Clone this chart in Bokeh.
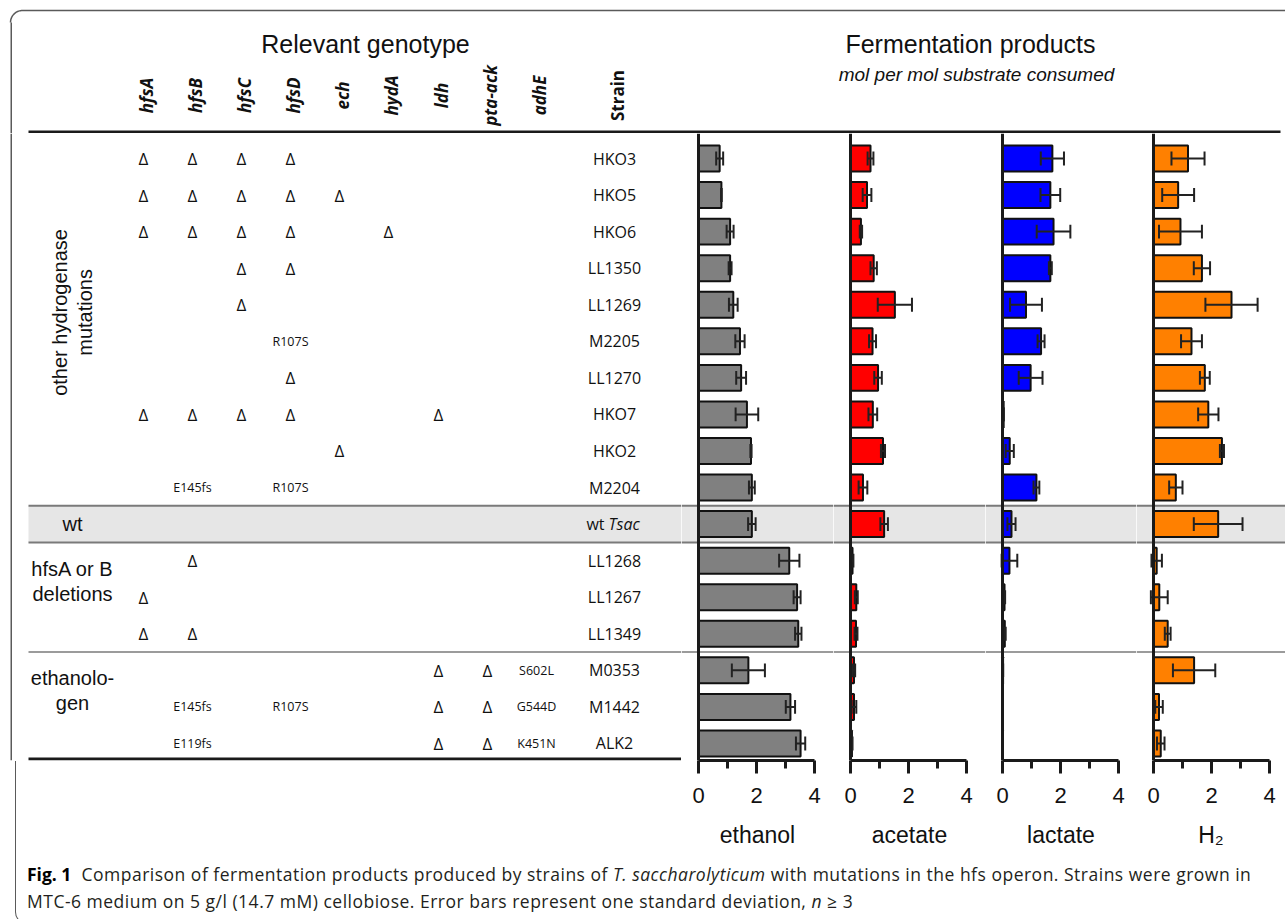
import numpy as np
from bokeh.plotting import figure
from bokeh.models import Range1d, FixedTicker, BoxAnnotation, Span, Div, ColumnDataSource
from bokeh.layouts import column, row
from bokeh.core.properties import value
from bokeh.embed import file_html
from bokeh.resources import INLINE

# ---------------- data ----------------
strains = ["HKO3", "HKO5", "HKO6", "LL1350", "LL1269", "M2205", "LL1270", "HKO7", "HKO2",
           "M2204", "wt Tsac", "LL1268", "LL1267", "LL1349", "M0353", "M1442", "ALK2"]
genes = ["hfsA", "hfsB", "hfsC", "hfsD", "ech", "hydA", "ldh", "pta-ack", "adhE"]
D = "\u0394"
genotype = [
    [D, D, D, D, "", "", "", "", ""],
    [D, D, D, D, D, "", "", "", ""],
    [D, D, D, D, "", D, "", "", ""],
    ["", "", D, D, "", "", "", "", ""],
    ["", "", D, "", "", "", "", "", ""],
    ["", "", "", "R107S", "", "", "", "", ""],
    ["", "", "", D, "", "", "", "", ""],
    [D, D, D, D, "", "", D, "", ""],
    ["", "", "", "", D, "", "", "", ""],
    ["", "E145fs", "", "R107S", "", "", "", "", ""],
    ["", "", "", "", "", "", "", "", ""],
    ["", D, "", "", "", "", "", "", ""],
    [D, "", "", "", "", "", "", "", ""],
    [D, D, "", "", "", "", "", "", ""],
    ["", "", "", "", "", "", D, D, "S602L"],
    ["", "E145fs", "", "R107S", "", "", D, D, "G544D"],
    ["", "E119fs", "", "", "", "", D, D, "K451N"],
]
groups = ["other hydrogenase\nmutations", "wt", "hfsA or B\ndeletions", "ethanolo-\ngen"]
group_rows = [4.21, 10.0, 11.57, 14.55]
group_angles = [np.pi / 2, 0, 0, 0]

ethanol = [0.73, 0.79, 1.09, 1.09, 1.20, 1.43, 1.47, 1.67, 1.81, 1.84, 1.84, 3.13, 3.40, 3.44, 1.72, 3.17, 3.52]
ethanol_sd = [0.12, 0.01, 0.12, 0.05, 0.15, 0.16, 0.17, 0.39, 0.02, 0.10, 0.13, 0.35, 0.12, 0.11, 0.57, 0.16, 0.16]
acetate = [0.69, 0.57, 0.36, 0.80, 1.53, 0.76, 0.95, 0.77, 1.12, 0.43, 1.16, 0.07, 0.20, 0.19, 0.12, 0.12, 0.05]
acetate_sd = [0.10, 0.15, 0.04, 0.11, 0.59, 0.12, 0.13, 0.15, 0.07, 0.15, 0.13, 0.03, 0.05, 0.05, 0.04, 0.08, 0.02]
lactate = [1.72, 1.65, 1.76, 1.65, 0.81, 1.33, 0.97, 0.04, 0.25, 1.17, 0.31, 0.24, 0.07, 0.08, 0.02, 0.01, 0.01]
lactate_sd = [0.40, 0.34, 0.58, 0.05, 0.55, 0.12, 0.41, 0.00, 0.14, 0.10, 0.14, 0.27, 0.02, 0.03, 0.00, 0.00, 0.00]
h2 = [1.19, 0.85, 0.93, 1.67, 2.69, 1.31, 1.77, 1.89, 2.36, 0.77, 2.23, 0.11, 0.20, 0.49, 1.40, 0.19, 0.25]
h2_sd = [0.57, 0.55, 0.74, 0.28, 0.90, 0.36, 0.17, 0.35, 0.07, 0.23, 0.84, 0.18, 0.29, 0.10, 0.73, 0.13, 0.13]

products = ["ethanol", "acetate", "lactate", "H\u2082"]
product_values = [ethanol, acetate, lactate, h2]
product_sds = [ethanol_sd, acetate_sd, lactate_sd, h2_sd]
product_colors = ["#808080", "#ff0000", "#0000ff", "#ff8000"]
x_ticks = [0, 2, 4]
x_minor = [1, 3]

# ---------------- layout constants ----------------
W = 1285
TOP = 133          # header height (px)
ROW0 = 158.0       # pixel centre of first strain row
ROWH = 36.56       # pixel spacing of rows
FH = 627           # frame height of the middle band (133 .. 760)
BOT = 96           # space below frames (axes)
SC = 29.0          # px per unit of bars
AX0 = [698, 850, 1002, 1153]
GAP = 17
TAB_W = AX0[0] - GAP
gene_x = [143, 192, 241, 290, 339, 388, 438, 487, 536]
strain_x = 614
group_x = 72
BORDER = "#5a5a5a"
ARIAL = value("Liberation Sans")
TABF = value("Open Sans")


def rowpos(px):
    return (px - ROW0) / ROWH


def bare(p):
    p.grid.visible = False
    p.outline_line_color = None
    p.min_border_left = 0
    p.min_border_right = 0
    p.min_border_top = 0


# ---------------- header ----------------
hdr = figure(width=W, height=TOP, x_range=Range1d(0, W), y_range=Range1d(TOP, 0),
             toolbar_location=None, output_backend="svg", x_axis_location=None,
             y_axis_location=None, min_border=0)
bare(hdr)
hdr.min_border_bottom = 0
t = np.linspace(0, np.pi / 2, 20)
cx = list(22 - 12 * np.cos(t)) + [W]
cy = list(22 - 12 * np.sin(t)) + [10]
hdr.line(cx, cy, line_color=BORDER, line_width=1.5)
hdr.segment(x0=[10.75], y0=[22], x1=[10.75], y1=[TOP], line_color=BORDER, line_width=1.5)
hdr.segment(x0=[28], y0=[131.5], x1=[1280], y1=[131.5], line_color="#1a1a1a", line_width=3)
hdr.text(x=[365, 970], y=[43, 43], text=["Relevant genotype", "Fermentation products"],
         text_font=ARIAL, text_font_size="25px", text_align="center", text_baseline="middle",
         text_color="#111")
hdr.text(x=[976], y=[74], text=["mol per mol substrate consumed"], text_font=ARIAL,
         text_font_size="19px", text_font_style="italic", text_align="center",
         text_baseline="middle", text_color="#111")
hdr.text(x=[g + 3 for g in gene_x], y=[95] * len(genes), text=genes, angle=np.pi / 2,
         text_font=TABF, text_font_size="17px", text_font_style="bold italic",
         text_align="center", text_baseline="middle", text_color="#111")
hdr.text(x=[strain_x + 3], y=[95], text=["Strain"], angle=np.pi / 2, text_font=TABF,
         text_font_size="17px", text_font_style="bold", text_align="center",
         text_baseline="middle", text_color="#111")

# ---------------- genotype table ----------------
yr_tab = Range1d(rowpos(TOP + FH), rowpos(TOP))
tab = figure(frame_width=TAB_W, frame_height=FH, x_range=Range1d(0, TAB_W), y_range=yr_tab,
             toolbar_location=None, output_backend="svg", x_axis_location=None,
             y_axis_location=None, min_border=0)
bare(tab)
tab.min_border_bottom = BOT
tab.segment(x0=[10.75], y0=[rowpos(TOP)], x1=[10.75], y1=[rowpos(TOP + FH)],
            line_color=BORDER, line_width=1.5)
tab.add_layout(BoxAnnotation(left=28, bottom=9.5, top=10.5, fill_color="#e6e6e6",
                             fill_alpha=1, line_color=None, level="underlay"))
tab.segment(x0=[28, 28, 28], y0=[9.5, 10.5, 13.5], x1=[TAB_W + 2] * 3, y1=[9.5, 10.5, 13.5],
            line_color="#7a7a7a", line_width=[2, 2, 1.5])
tab.segment(x0=[28], y0=[rowpos(758.4)], x1=[TAB_W], y1=[rowpos(758.4)], line_color="#1a1a1a",
            line_width=3)

dx, dy, dt, mx, my, mt = [], [], [], [], [], []
for i, cells in enumerate(genotype):
    for j, c in enumerate(cells):
        if c == D:
            dx.append(gene_x[j]); dy.append(i); dt.append(c)
        elif c:
            mx.append(gene_x[j]); my.append(i); mt.append(c)
tab.text(x=dx, y=dy, text=dt, text_font=TABF, text_font_size="17px", text_align="center",
         text_baseline="middle", text_color="#111")
tab.text(x=mx, y=my, text=mt, text_font=TABF, text_font_size="12.5px", text_align="center",
         text_baseline="middle", text_color="#111")
plain = [(i, s) for i, s in enumerate(strains) if s != "wt Tsac"]
tab.text(x=[strain_x] * len(plain), y=[i for i, _ in plain], text=[s for _, s in plain],
         text_font=TABF, text_font_size="16px", text_align="center", text_baseline="middle",
         text_color="#111")
iwt = strains.index("wt Tsac")
tab.text(x=[strain_x - 10], y=[iwt], text=["wt"], text_font=TABF, text_font_size="16px",
         text_align="right", text_baseline="middle", text_color="#111")
tab.text(x=[strain_x - 6], y=[iwt], text=["Tsac"], text_font=TABF, text_font_size="16px",
         text_font_style="italic", text_align="left", text_baseline="middle", text_color="#111")
tab.text(x=[group_x] * len(groups), y=group_rows, text=groups, angle=group_angles,
         text_font=ARIAL, text_font_size="20px", text_align="center", text_baseline="middle",
         text_color="#111", text_line_height=1.1)

# ---------------- bar panels ----------------
idx = list(range(len(strains)))
panels = []
for k in range(4):
    left_px = AX0[k] - GAP
    right_px = AX0[k + 1] - GAP if k < 3 else W
    xr = Range1d((left_px - AX0[k]) / SC, (right_px - AX0[k]) / SC)
    p = figure(frame_width=right_px - left_px, frame_height=FH, x_range=xr,
               y_range=Range1d(rowpos(TOP + FH), rowpos(TOP)),
               toolbar_location=None, output_backend="svg", y_axis_location=None,
               x_axis_location="below")
    bare(p)
    p.min_border_bottom = BOT
    p.add_layout(BoxAnnotation(bottom=9.5, top=10.5, fill_color="#e6e6e6", fill_alpha=1,
                               line_color=None, level="underlay"))
    for loc, lw in [(9.5, 2), (10.5, 2), (13.5, 1.5)]:
        p.add_layout(Span(location=loc, dimension="width", line_color="#7a7a7a",
                          line_width=lw, level="underlay"))
    vals = product_values[k]
    sds = product_sds[k]
    lo = [v - s for v, s in zip(vals, sds)]
    hi = [v + s for v, s in zip(vals, sds)]
    src = ColumnDataSource(dict(y=idx, v=vals, lo=lo, hi=hi,
                                yb=[i - 0.19 for i in idx], yt=[i + 0.19 for i in idx]))
    p.hbar(y="y", left=0, right="v", height=0.71, source=src, fill_color=product_colors[k],
           line_color="#111", line_width=2)
    p.segment(x0="lo", y0="y", x1="hi", y1="y", source=src, line_color="#222", line_width=2)
    p.segment(x0="lo", y0="yb", x1="lo", y1="yt", source=src, line_color="#222", line_width=2)
    p.segment(x0="hi", y0="yb", x1="hi", y1="yt", source=src, line_color="#222", line_width=2)
    p.add_layout(Span(location=0, dimension="height", line_color="#1a1a1a", line_width=3))
    ax = p.xaxis[0]
    ax.ticker = FixedTicker(ticks=x_ticks, minor_ticks=x_minor)
    ax.bounds = (0, 4)
    ax.axis_line_width = 3
    ax.axis_line_color = "#1a1a1a"
    ax.major_tick_line_width = 3
    ax.minor_tick_line_width = 3
    ax.major_tick_line_color = "#1a1a1a"
    ax.minor_tick_line_color = "#1a1a1a"
    ax.major_tick_out = 13
    ax.major_tick_in = 0
    ax.minor_tick_out = 8
    ax.minor_tick_in = 0
    ax.major_label_text_font = "Liberation Sans"
    ax.major_label_text_font_size = "22px"
    ax.major_label_text_color = "#111"
    ax.major_label_standoff = 14
    ax.axis_label = products[k]
    ax.axis_label_text_font = "Liberation Sans"
    ax.axis_label_text_font_size = "23px"
    ax.axis_label_text_font_style = "normal"
    ax.axis_label_text_color = "#111"
    ax.axis_label_standoff = 16
    panels.append(p)

# ---------------- caption ----------------
cap_html = (
    '<div style="position:relative; top:-100px; margin-left:10px; width:1275px; height:163px; '
    'box-sizing:border-box; padding-top:100px; '
    'border-left:1.5px solid #5a5a5a; border-bottom:1.5px solid #5a5a5a; '
    'border-bottom-left-radius:12px; padding-left:11px; font-family:\'Open Sans\'; '
    'font-size:17.5px; letter-spacing:0.5px; line-height:27px; white-space:nowrap; color:#231f20;">'
    '<b style="color:#000; letter-spacing:0">Fig. 1</b>&nbsp; Comparison of fermentation products produced by '
    'strains of <i>T. saccharolyticum</i> with mutations in the hfs operon. Strains were grown in'
    '<br>MTC-6 medium on 5 g/l (14.7 mM) cellobiose. Error bars represent one standard '
    'deviation, <i>n</i> \u2265 3</div>'
)
cap = Div(text=cap_html, width=W, height=63)

layout = column(hdr, row(tab, *panels, spacing=0), cap, spacing=0)
open("out.html", "w").write(file_html(layout, INLINE))
